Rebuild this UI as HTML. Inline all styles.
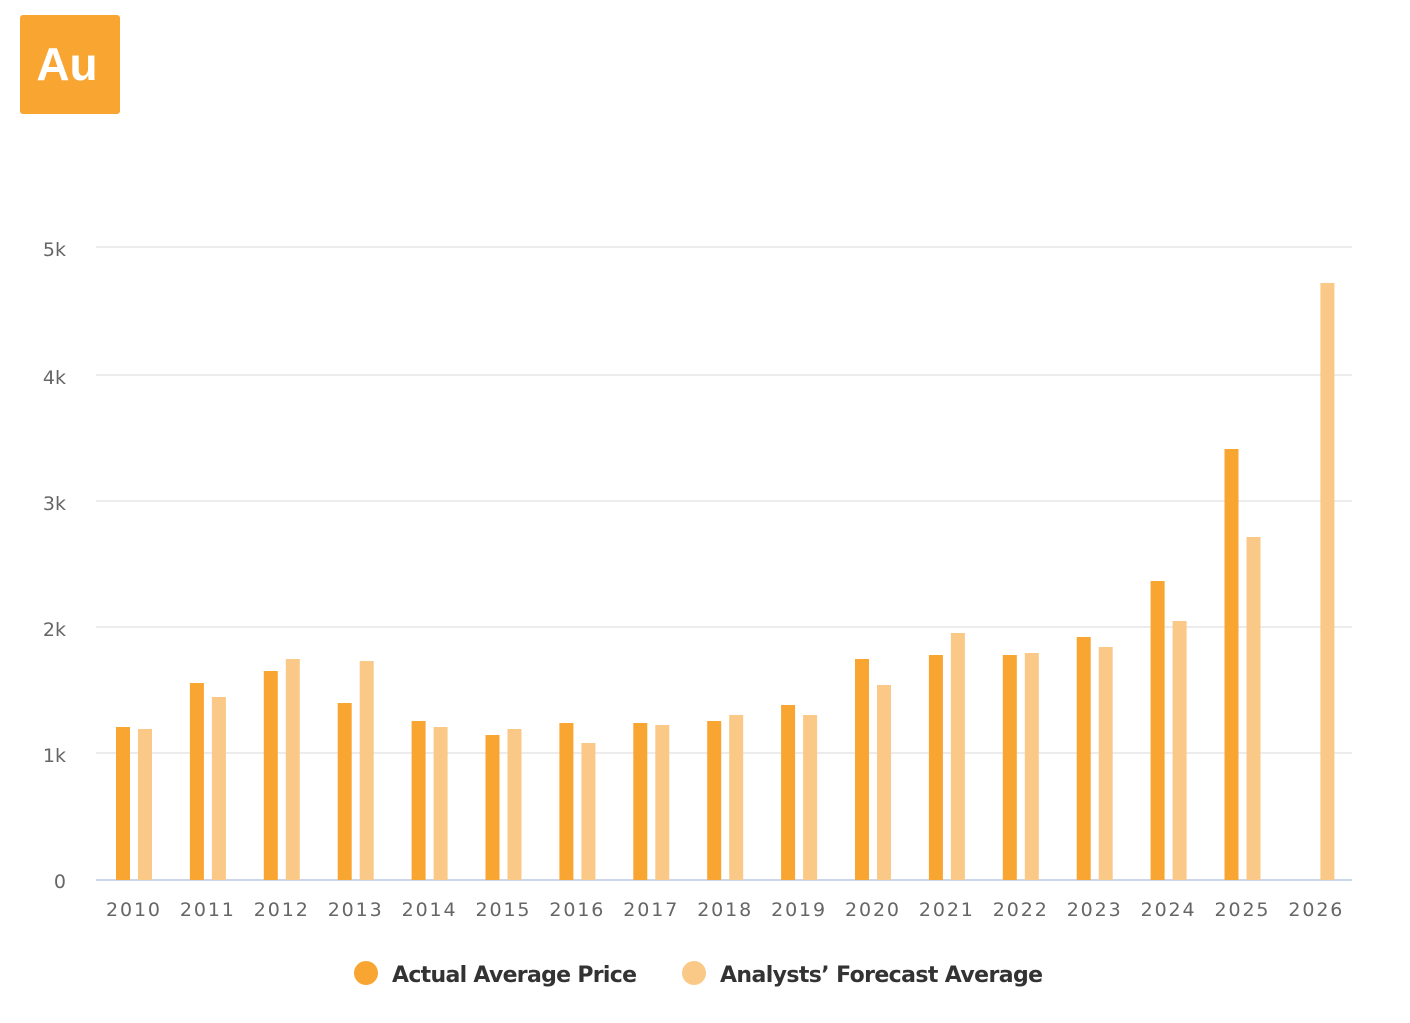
<!DOCTYPE html>
<html><head><meta charset="utf-8"><style>
html,body{margin:0;padding:0;background:#fff;}
svg{display:block;font-family:"DejaVu Sans","Liberation Sans",sans-serif;}
</style></head><body>
<svg width="1410" height="1023" viewBox="0 0 1410 1023" xmlns="http://www.w3.org/2000/svg">
<rect x="20" y="15" width="100" height="99" rx="3" fill="#f8a532"/>
<text x="67" y="80" text-anchor="middle" font-family="Liberation Sans, sans-serif" font-weight="bold" font-size="46" fill="#fff">Au</text>
<g stroke="#e6e6e6" stroke-width="1.5">
<line x1="96" y1="247" x2="1352" y2="247"/>
<line x1="96" y1="375" x2="1352" y2="375"/>
<line x1="96" y1="501" x2="1352" y2="501"/>
<line x1="96" y1="627" x2="1352" y2="627"/>
<line x1="96" y1="753" x2="1352" y2="753"/>
</g>
<line x1="96" y1="880" x2="1352" y2="880" stroke="#ccd6eb" stroke-width="2"/>
<g font-size="19" fill="#666" text-anchor="end">
<text x="66" y="256">5k</text><text x="66" y="384">4k</text><text x="66" y="510">3k</text>
<text x="66" y="636">2k</text><text x="66" y="762">1k</text><text x="66" y="888">0</text>
</g>
<g fill="#f8a532">
<rect x="116" y="727" width="14" height="153"/>
<rect x="189.9" y="683" width="14" height="197"/>
<rect x="263.8" y="671" width="14" height="209"/>
<rect x="337.7" y="703" width="14" height="177"/>
<rect x="411.6" y="721" width="14" height="159"/>
<rect x="485.5" y="735" width="14" height="145"/>
<rect x="559.4" y="723" width="14" height="157"/>
<rect x="633.3" y="723" width="14" height="157"/>
<rect x="707.2" y="721" width="14" height="159"/>
<rect x="781.1" y="705" width="14" height="175"/>
<rect x="855" y="659" width="14" height="221"/>
<rect x="928.9" y="655" width="14" height="225"/>
<rect x="1002.8" y="655" width="14" height="225"/>
<rect x="1076.7" y="637" width="14" height="243"/>
<rect x="1150.6" y="581" width="14" height="299"/>
<rect x="1224.5" y="449" width="14" height="431"/>
</g>
<g fill="#fbc987">
<rect x="138" y="729" width="14" height="151"/>
<rect x="211.9" y="697" width="14" height="183"/>
<rect x="285.8" y="659" width="14" height="221"/>
<rect x="359.7" y="661" width="14" height="219"/>
<rect x="433.6" y="727" width="14" height="153"/>
<rect x="507.5" y="729" width="14" height="151"/>
<rect x="581.4" y="743" width="14" height="137"/>
<rect x="655.3" y="725" width="14" height="155"/>
<rect x="729.2" y="715" width="14" height="165"/>
<rect x="803.1" y="715" width="14" height="165"/>
<rect x="877" y="685" width="14" height="195"/>
<rect x="950.9" y="633" width="14" height="247"/>
<rect x="1024.8" y="653" width="14" height="227"/>
<rect x="1098.7" y="647" width="14" height="233"/>
<rect x="1172.6" y="621" width="14" height="259"/>
<rect x="1246.5" y="537" width="14" height="343"/>
<rect x="1320.4" y="283" width="14" height="597"/>
</g>
<g font-size="19" fill="#666" text-anchor="middle">
<text x="133" y="916" textLength="54">2010</text>
<text x="206.9" y="916" textLength="54">2011</text>
<text x="280.8" y="916" textLength="54">2012</text>
<text x="354.7" y="916" textLength="54">2013</text>
<text x="428.6" y="916" textLength="54">2014</text>
<text x="502.5" y="916" textLength="54">2015</text>
<text x="576.4" y="916" textLength="54">2016</text>
<text x="650.3" y="916" textLength="54">2017</text>
<text x="724.2" y="916" textLength="54">2018</text>
<text x="798.1" y="916" textLength="54">2019</text>
<text x="872" y="916" textLength="54">2020</text>
<text x="945.9" y="916" textLength="54">2021</text>
<text x="1019.8" y="916" textLength="54">2022</text>
<text x="1093.7" y="916" textLength="54">2023</text>
<text x="1167.6" y="916" textLength="54">2024</text>
<text x="1241.5" y="916" textLength="54">2025</text>
<text x="1315.4" y="916" textLength="54">2026</text>
</g>
<circle cx="366" cy="973" r="12" fill="#f8a532"/>
<text x="392" y="982" font-size="22" font-weight="bold" fill="#333" textLength="245">Actual Average Price</text>
<circle cx="694" cy="973" r="12" fill="#fbc987"/>
<text x="720" y="982" font-size="22" font-weight="bold" fill="#333" textLength="323">Analysts’ Forecast Average</text>
</svg>
</body></html>
